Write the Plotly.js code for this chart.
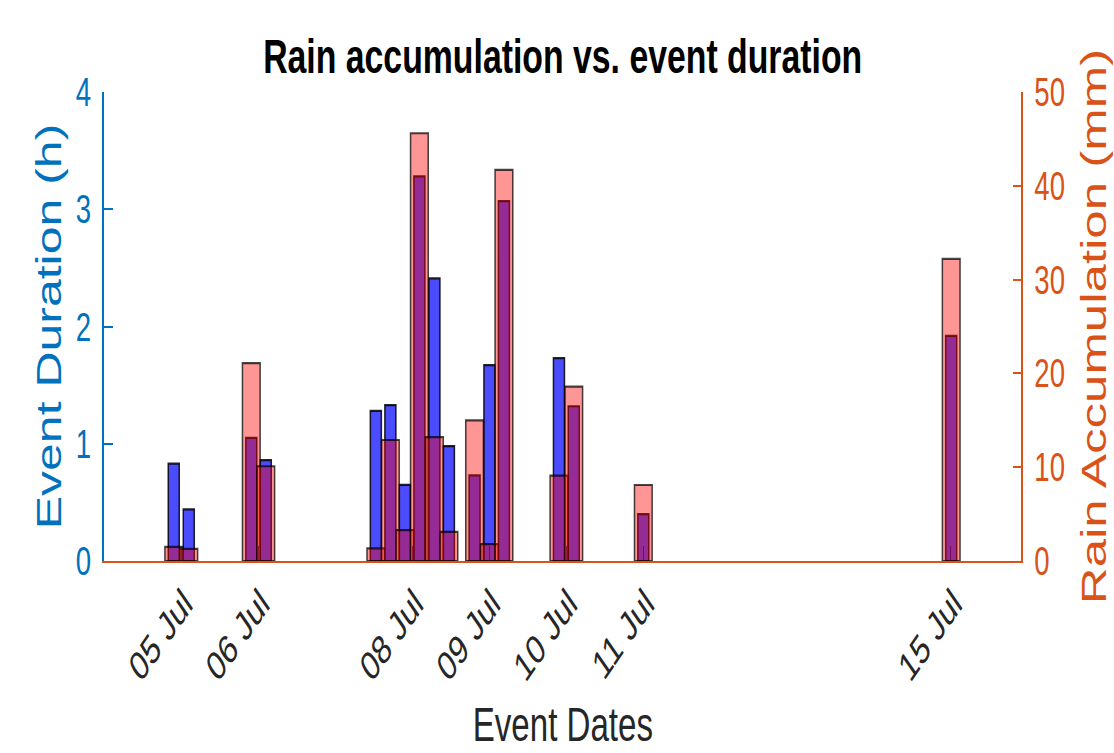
<!DOCTYPE html>
<html>
<head>
<meta charset="utf-8">
<script src="https://cdn.plot.ly/plotly-3.0.1.min.js"></script>
<style>
  html, body { margin: 0; padding: 0; background: #fff; overflow: hidden; }
  #plot { width: 1614px; height: 753px; transform: scale(0.69, 1); transform-origin: 0 0; }
</style>
</head>
<body>
<div id="plot"></div>
<script>
// ---- data ----
const eventTimes = [
  '2023-07-04 21:36', '2023-07-05 02:17',
  '2023-07-05 21:47', '2023-07-06 02:18',
  '2023-07-07 12:38', '2023-07-07 17:10', '2023-07-07 21:41',
  '2023-07-08 02:13', '2023-07-08 06:54', '2023-07-08 11:25',
  '2023-07-08 19:26', '2023-07-09 00:04', '2023-07-09 04:35',
  '2023-07-09 21:45', '2023-07-10 02:22',
  '2023-07-11 00:04',
  '2023-07-15 00:06'
];
const durationHours = [0.83, 0.44, 1.05, 0.86, 1.28, 1.33, 0.65, 3.28, 2.41, 0.98,
                       0.73, 1.67, 3.07, 1.73, 1.32, 0.40, 1.92];
const rainMm = [1.5, 1.3, 21.1, 10.1, 1.35, 12.9, 3.3, 45.6, 13.2, 3.1,
                15.0, 1.8, 41.7, 9.1, 18.6, 8.1, 32.2];
const dateTicks = ['2023-07-05', '2023-07-06', '2023-07-08', '2023-07-09',
                   '2023-07-10', '2023-07-11', '2023-07-15'];
const durationTicks = [0, 1, 2, 3, 4];
const rainTicks = [0, 10, 20, 30, 40, 50];

// ---- styling ----
const W = 1614, H = 753;
const BLUE = 'rgb(0,114,189)';
const ORANGE = 'rgb(217,83,25)';
const GREY = 'rgb(38,38,38)';
const FONT = 'Liberation Sans, Arial, Helvetica, sans-serif';
const DAY = 86400000;

const traces = [
  {
    type: 'bar', x: eventTimes, y: durationHours, yaxis: 'y', xaxis: 'x',
    width: eventTimes.map(() => 0.143 * DAY),
    marker: { color: 'rgba(0,0,255,0.70)', line: { color: 'rgba(0,0,0,0.85)', width: 2.2 } },
    hoverinfo: 'skip'
  },
  {
    type: 'bar', x: eventTimes, y: rainMm, yaxis: 'y2', xaxis: 'x',
    width: eventTimes.map(() => 0.230 * DAY),
    marker: { color: 'rgba(255,0,0,0.41)', line: { color: 'rgba(0,0,0,0.72)', width: 2.2 } },
    hoverinfo: 'skip'
  }
];

const layout = {
  width: W, height: H,
  margin: { l: 151.4, r: 134.3, t: 92, b: 192, pad: 0 },
  paper_bgcolor: '#fff', plot_bgcolor: '#fff',
  barmode: 'overlay', showlegend: false,
  font: { family: FONT },
  title: {
    text: '<b>Rain accumulation vs. event duration</b>',
    x: 0.5, xref: 'paper', xanchor: 'center',
    y: 1 - 56 / H, yref: 'container', yanchor: 'middle',
    font: { family: FONT, size: 49, color: '#000' }
  },
  annotations: [{
    text: 'Event Dates', showarrow: false,
    xref: 'paper', x: 0.5, xanchor: 'center',
    yref: 'paper', y: -(752 - 561) / 469, yanchor: 'bottom',
    borderpad: 0,
    font: { family: FONT, size: 48, color: GREY }
  }],
  xaxis: {
    type: 'date',
    range: ['2023-07-03 23:54', '2023-07-15 21:56'],
    tickmode: 'array', tickvals: dateTicks, tickformat: '%d %b',
    tickangle: -45, ticklabelshift: 4,
    ticks: 'inside', ticklen: 15, tickwidth: 1.5, tickcolor: 'rgba(110,0,50,0.7)',
    showline: true, linecolor: ORANGE, linewidth: 2,
    showgrid: false, zeroline: false,
    tickfont: { family: FONT, size: 41, color: GREY }
  },
  yaxis: {
    range: [0, 4], tickmode: 'array', tickvals: durationTicks,
    ticks: 'inside', ticklen: 13, tickwidth: 2, tickcolor: BLUE,
    showline: true, linecolor: BLUE, linewidth: 3,
    showgrid: false, zeroline: false,
    ticklabelstandoff: 8,
    tickfont: { family: FONT, size: 40, color: BLUE },
    title: { text: 'Event Duration (h)', font: { family: FONT, size: 50, color: BLUE }, standoff: 5 }
  },
  yaxis2: {
    overlaying: 'y', side: 'right',
    range: [0, 50], tickmode: 'array', tickvals: rainTicks,
    ticks: 'inside', ticklen: 12, tickwidth: 2, tickcolor: ORANGE,
    showline: true, linecolor: ORANGE, linewidth: 3,
    showgrid: false, zeroline: false,
    ticklabelstandoff: 8,
    tickfont: { family: FONT, size: 40, color: ORANGE },
    title: { text: 'Rain Accumulation (mm)', font: { family: FONT, size: 51, color: ORANGE }, standoff: 31 }
  }
};

Plotly.newPlot('plot', traces, layout, { staticPlot: true, displayModeBar: false });
</script>
</body>
</html>
